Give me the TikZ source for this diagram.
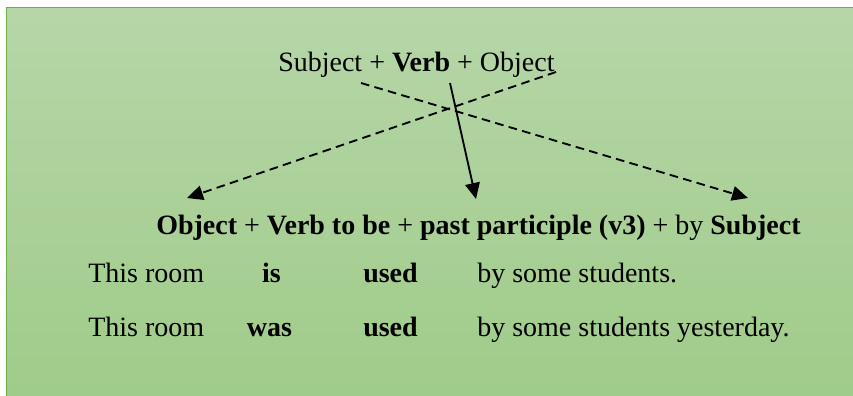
\documentclass[tikz,border=0pt]{standalone}
\usepackage{fontspec}
\setmainfont{Liberation Serif}
\usetikzlibrary{arrows.meta}
\definecolor{gtop}{RGB}{182,214,168}
\definecolor{gbot}{RGB}{159,203,137}
\definecolor{gedge}{RGB}{112,173,71}
\tikzset{
  txt/.style={inner sep=0pt, font=\fontsize{21}{25}\selectfont},
  arr/.style={line width=1.4pt, -{Triangle[length=12pt,width=11pt]}},
  dsh/.style={arr, dash pattern=on 6.5pt off 4pt},
}
\begin{document}
\begin{tikzpicture}[x=0.75pt,y=-0.75pt]
\useasboundingbox (0,0) rectangle (853,396);
\begin{scope}
\clip (0,0) rectangle (853,396);
\shade[top color=gtop, bottom color=gbot] (6.5,7.5) rectangle (870,410);
\draw[gedge, line width=1.2pt] (6.5,420) -- (6.5,7.5) -- (870,7.5);
\end{scope}

\node[txt, anchor=base west] (top) at (278,71) {Subject + \textbf{Verb} + Object};
\node[txt, anchor=base west] (bot) at (156,234) {\textbf{Object} + \textbf{Verb to be} + \textbf{past participle (v3)} + by \textbf{Subject}};

\node[txt, anchor=base west] (r1a) at (88,282) {This room};
\node[txt, anchor=base] (r1b) at (271.5,282) {\textbf{is}};
\node[txt, anchor=base west] (r1c) at (363,282) {\textbf{used}};
\node[txt, anchor=base west] (r1d) at (477,282) {by some students.};

\node[txt, anchor=base west] (r2a) at (88,336) {This room};
\node[txt, anchor=base] (r2b) at (269.5,336) {\textbf{was}};
\node[txt, anchor=base west] (r2c) at (363,336) {\textbf{used}};
\node[txt, anchor=base west] (r2d) at (477,336) {by some students yesterday.};

\coordinate (s1) at (361,83);
\coordinate (e1) at (748,198);
\coordinate (s2) at (556,72);
\coordinate (e2) at (187,198);
\coordinate (s3) at (450,83);
\coordinate (e3) at (476,199);

\draw[dsh] (s1) -- (e1);
\draw[dsh] (s2) -- (e2);
\draw[arr] (s3) -- (e3);
\end{tikzpicture}
\end{document}
